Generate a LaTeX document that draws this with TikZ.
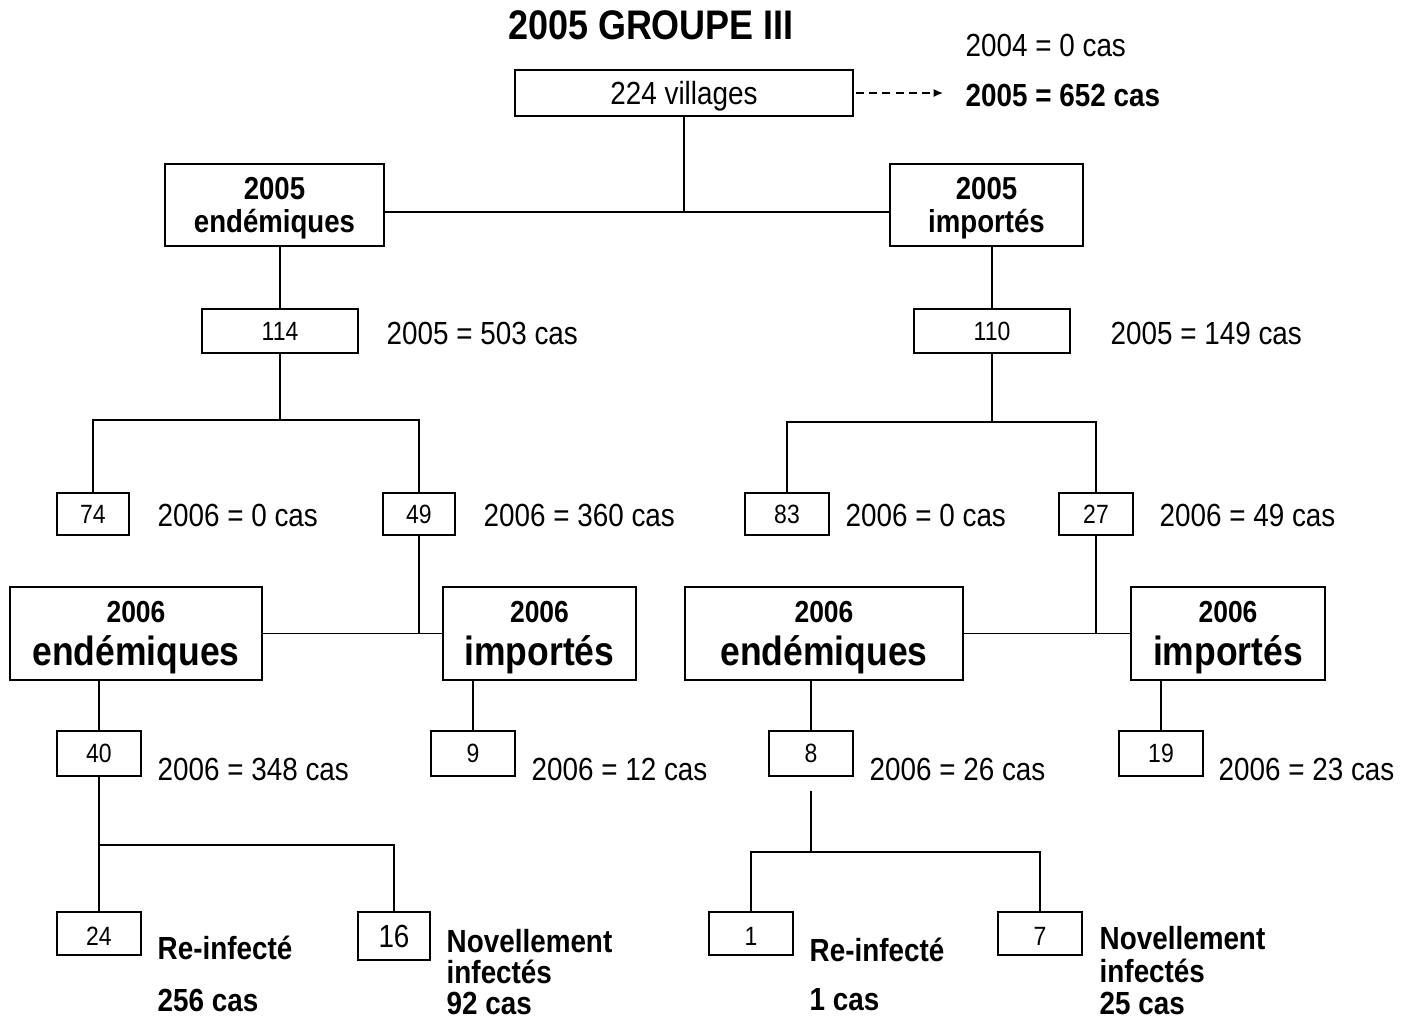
\documentclass[tikz,border=0pt]{standalone}
\usepackage{fontspec}
\setmainfont{Liberation Sans}[FakeStretch=0.87]
\usetikzlibrary{arrows.meta}
\begin{document}
\begin{tikzpicture}[x=0.75pt,y=-0.75pt,
  line width=1.1pt,
  bx/.style 2 args={draw, line width=1.1pt, inner sep=0pt, minimum width=#1*0.75pt, minimum height=#2*0.75pt},
  reg/.style={font=\fontsize{24}{28}\selectfont},
  regb/.style={font=\fontsize{24}{28}\selectfont\bfseries},
  num/.style={font=\fontsize{19.8}{22}\selectfont},
  hd/.style={align=center, text height=46.3pt, font=\fontsize{23.8}{24.75}\selectfont\bfseries},
  big/.style={align=center, text height=54.5pt, font=\fontsize{30.6}{32.2}\selectfont\bfseries},
  lbl/.style={anchor=west, inner sep=0pt},
  multi/.style={anchor=north west, inner sep=0pt, align=left},
]
\useasboundingbox (0,0) rectangle (1411,1019);

% title and top
\node[font=\fontsize{31}{36}\selectfont\bfseries] (title) at (651,25) {2005 GROUPE III};
\node[lbl,reg] (c2004) at (965,45) {2004 = 0 cas};
\node[lbl,regb] (c2005) at (965,95) {2005 = 652 cas};
\node[bx={338}{46},reg,text depth=0pt] (top) at (684,93) {224 villages};
\coordinate (arr) at (943,93);
\draw[dash pattern=on 6pt off 4pt, -{Latex[length=7pt,width=6pt]}] ([xshift=1.5pt]top.east) -- (arr);

% 2005 level
\node[bx={219}{82},hd] (e05) at (274.5,205) {2005\\endémiques};
\node[bx={193}{82},hd] (i05) at (986.5,205) {2005\\importés};
\node[bx={156}{44},num] (b114) at (280,331) {114};
\node[bx={156}{44},num] (b110) at (992,331) {110};
\node[lbl,reg] (l114) at (386,333) {2005 = 503 cas};
\node[lbl,reg] (l110) at (1110,333) {2005 = 149 cas};

% 2006 split
\node[bx={72}{42},num] (b74) at (93,514) {74};
\node[bx={72}{42},num] (b49) at (419,514) {49};
\node[bx={84}{42},num] (b83) at (787,514) {83};
\node[bx={74}{42},num] (b27) at (1096,514) {27};
\node[lbl,reg] (l74) at (157,515) {2006 = 0 cas};
\node[lbl,reg] (l49) at (483,515) {2006 = 360 cas};
\node[lbl,reg] (l83) at (845,515) {2006 = 0 cas};
\node[lbl,reg] (l27) at (1159,515) {2006 = 49 cas};

% 2006 category boxes
\node[bx={252}{93},big] (e06L) at (136,633.5) {{\fontsize{22.8}{26}\selectfont 2006}\\endémiques};
\node[bx={193}{93},big] (i06L) at (539.5,633.5) {{\fontsize{22.8}{26}\selectfont 2006}\\importés};
\node[bx={278}{93},big] (e06R) at (824,633.5) {{\fontsize{22.8}{26}\selectfont 2006}\\endémiques};
\node[bx={194}{93},big] (i06R) at (1228,633.5) {{\fontsize{22.8}{26}\selectfont 2006}\\importés};

\node[bx={84}{45},num] (b40) at (99,753.5) {40};
\node[bx={84}{45},num] (b9) at (473,753.5) {9};
\node[bx={84}{45},num] (b8) at (811,753.5) {8};
\node[bx={84}{45},num] (b19) at (1161,753.5) {19};
\node[lbl,reg] (l40) at (157,769) {2006 = 348 cas};
\node[lbl,reg] (l9) at (531,769) {2006 = 12 cas};
\node[lbl,reg] (l8) at (869,769) {2006 = 26 cas};
\node[lbl,reg] (l19) at (1218,769) {2006 = 23 cas};

% bottom
\node[bx={84}{43},num,text height=18.7pt] (b24) at (99,933.5) {24};
\node[bx={72}{48},reg] (b16) at (394,936) {16};
\node[bx={84}{43},num,text height=18.7pt] (b1) at (751,933.5) {1};
\node[bx={84}{43},num,text height=18.7pt] (b7) at (1040,933.5) {7};
\node[lbl,regb] (r24) at (157,948) {Re-infecté};
\node[lbl,regb] (c24) at (157,1000) {256 cas};
\node[multi,font=\fontsize{24}{23.2}\selectfont\bfseries] (n16) at (446,929) {Novellement\\infectés\\92 cas};
\node[lbl,regb] (r1) at (809,950) {Re-infecté};
\node[lbl,regb] (c1) at (809,1000) {1 cas};
\node[multi,font=\fontsize{24}{24.2}\selectfont\bfseries] (n7) at (1099,926) {Novellement\\infectés\\25 cas};

% connectors
\coordinate (j1) at (684,212);
\draw (top.south) -- (j1);
\draw (e05.east |- j1) -- (i05.west |- j1);
\draw (e05.south -| b114.north) -- (b114.north);
\draw (i05.south -| b110.north) -- (b110.north);

\coordinate (j2) at (280,420);
\draw (b114.south) -- (j2);
\draw (b74.north) |- (j2) -| (b49.north);
\coordinate (j3) at (992,422);
\draw (b110.south) -- (j3);
\draw (b83.north) |- (j3) -| (b27.north);

\draw (b49.south) -- (b49.south |- e06L.east);
\draw (e06L.east) -- (i06L.west);
\draw (b27.south) -- (b27.south |- e06R.east);
\draw (e06R.east) -- (i06R.west);

\draw (e06L.south -| b40.north) -- (b40.north);
\draw (i06L.south -| b9.north) -- (b9.north);
\draw (e06R.south -| b8.north) -- (b8.north);
\draw (i06R.south -| b19.north) -- (b19.north);

\coordinate (j4) at (99,845);
\draw (b40.south) -- (j4) -| (b16.north);
\draw (j4) -- (b24.north);
\coordinate (j5) at (811,852);
\draw[shorten <=10.5pt] (b8.south) -- (j5);
\draw (b1.north) |- (j5) -| (b7.north);
\end{tikzpicture}
\end{document}
